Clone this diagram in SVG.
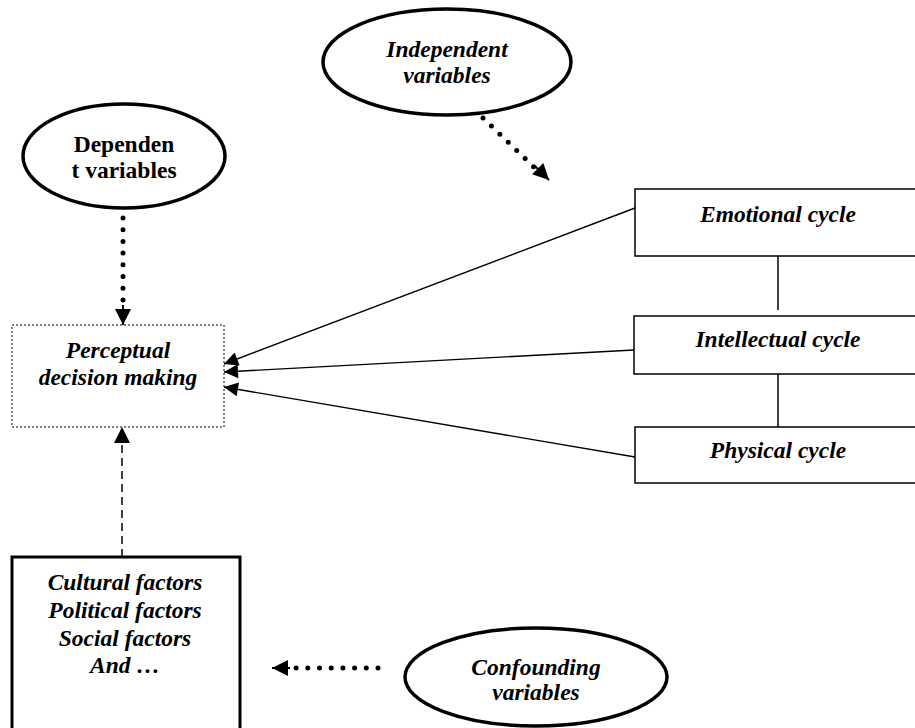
<svg xmlns="http://www.w3.org/2000/svg" width="915" height="728" viewBox="0 0 915 728">
<style>
text{font-family:"Liberation Serif","Times New Roman",serif;font-size:23.5px;font-weight:bold;fill:#000;text-anchor:middle}
.it{font-style:italic}
.ell{fill:#fff;stroke:#000;stroke-width:3.5}
.box{fill:#fff;stroke:#000;stroke-width:1.5}
.dots{fill:none;stroke:#000;stroke-width:5;stroke-linecap:round;stroke-dasharray:0 11.7}
.solid{fill:none;stroke:#000;stroke-width:1.4}
</style>
<defs>
<marker id="ah" viewBox="0 0 10 10" refX="10" refY="5" markerWidth="16" markerHeight="14" markerUnits="userSpaceOnUse" orient="auto">
<path d="M0,0 L10,5 L0,10 Z" fill="#000"/>
</marker>
<marker id="ahb" viewBox="0 0 10 10" refX="10" refY="5" markerWidth="18" markerHeight="16" markerUnits="userSpaceOnUse" orient="auto">
<path d="M0,0 L10,5 L0,10 Z" fill="#000"/>
</marker>
</defs>
<g id="connectors">
<line class="dots" x1="483" y1="118" x2="537" y2="170"/>
<line x1="535" y1="166" x2="549" y2="180" stroke="#000" stroke-width="2" marker-end="url(#ahb)"/>
<line class="dots" x1="123" y1="218" x2="123" y2="300"/>
<line x1="123" y1="305" x2="123" y2="325" stroke="#000" stroke-width="2" marker-end="url(#ahb)"/>
<line class="dots" x1="378" y1="668" x2="290" y2="668"/>
<line x1="290" y1="668" x2="272" y2="668" stroke="#000" stroke-width="2" marker-end="url(#ahb)"/>
<line class="solid" x1="635" y1="208" x2="224" y2="364" marker-end="url(#ah)"/>
<line class="solid" x1="634" y1="350" x2="224" y2="372" marker-end="url(#ah)"/>
<line class="solid" x1="635" y1="457" x2="224" y2="387" marker-end="url(#ah)"/>
<line x1="778" y1="256" x2="778" y2="310" stroke="#000" stroke-width="1.5"/>
<line x1="778" y1="374" x2="778" y2="427" stroke="#000" stroke-width="1.5"/>
<line x1="122" y1="557" x2="122" y2="427" stroke="#000" stroke-width="1.5" stroke-dasharray="8 5" marker-end="url(#ahb)"/>
</g>
<g id="independent">
<ellipse class="ell" cx="447" cy="62" rx="124" ry="53"/>
<text class="it" x="447" y="57">Independent</text>
<text class="it" x="447" y="83">variables</text>
</g>
<g id="dependent">
<ellipse class="ell" cx="124" cy="156" rx="101" ry="52"/>
<text x="124" y="152">Dependen</text>
<text x="124" y="178">t variables</text>
</g>
<g id="perceptual">
<rect x="12" y="325" width="212" height="102" fill="#fff" stroke="#000" stroke-width="1" stroke-dasharray="2 2"/>
<text class="it" x="118" y="358">Perceptual</text>
<text class="it" x="118" y="385">decision making</text>
</g>
<g id="emotional">
<rect class="box" x="635" y="189" width="290" height="67"/>
<text class="it" x="778" y="222">Emotional cycle</text>
</g>
<g id="intellectual">
<rect class="box" x="634" y="316" width="291" height="58"/>
<text class="it" x="778" y="347">Intellectual cycle</text>
</g>
<g id="physical">
<rect class="box" x="635" y="427" width="290" height="56"/>
<text class="it" x="778" y="458">Physical cycle</text>
</g>
<g id="factors">
<rect x="12" y="557" width="228" height="180" fill="#fff" stroke="#000" stroke-width="3"/>
<text class="it" x="125" y="590">Cultural factors</text>
<text class="it" x="125" y="618">Political factors</text>
<text class="it" x="125" y="646">Social factors</text>
<text class="it" x="125" y="673">And …</text>
</g>
<g id="confounding">
<ellipse class="ell" cx="536" cy="677" rx="131" ry="49"/>
<text class="it" x="536" y="675">Confounding</text>
<text class="it" x="536" y="700">variables</text>
</g>
</svg>
